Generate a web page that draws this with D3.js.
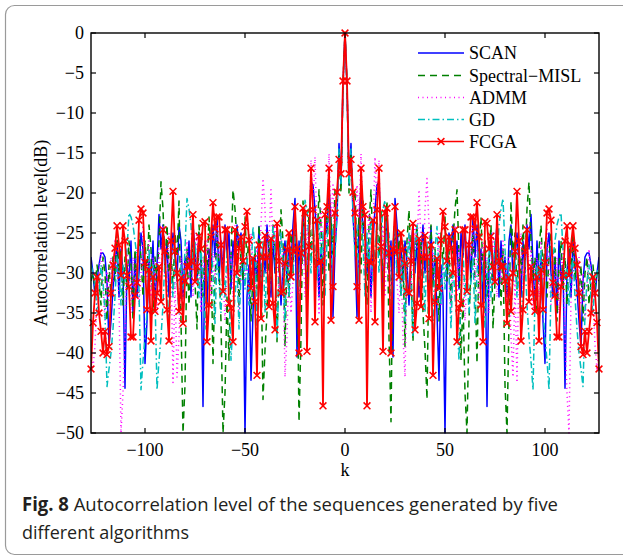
<!DOCTYPE html>
<html>
<head>
<meta charset="utf-8">
<script src="https://cdn.jsdelivr.net/npm/d3@7"></script>
<style>
  body { margin: 0; background: #fff; }
  svg { display: block; }
</style>
</head>
<body>
<svg width="623" height="556"></svg>
<script>
// lags k = -127..127 ; autocorrelation level is symmetric, so only k >= 0 is listed
const lags = d3.range(-127, 128);

const scanHalf = [
  0, -6.5, -19, -13.8, -23, -27, -35.5, -24, -19, -25,
  -23, -30, -27, -33, -26, -22, -19, -18.6, -25, -33,
  -28, -22, -30, -26, -40.5, -20.7, -24, -29, -27, -31,
  -26, -29, -34, -27, -24, -30, -26, -33, -28, -24,
  -30, -27, -34, -24.2, -31, -28, -35, -43.4, -29, -33,
  -50, -30, -25, -27, -24, -29, -26, -32, -25, -28,
  -24, -30, -26, -31, -23, -28, -24, -30, -27, -34,
  -26, -46.7, -29, -25, -31, -27, -24, -33, -26, -30,
  -28, -33, -26, -24, -31, -28, -25, -29, -33, -26,
  -30, -24, -27, -22.7, -29, -34, -26, -31, -28, -36,
  -41.3, -27, -25, -30, -33, -28, -35, -26, -31, -29,
  -44.4, -30, -27, -33, -26, -29, -32, -36, -39.2, -31,
  -28, -27.5, -27.5, -29, -31, -33, -30, -28
];

const misHalf = [
  0, -6.5, -20, -15, -21, -19.6, -28, -23, -30, -21,
  -26, -34, -24, -19.6, -27, -31, -23, -28, -22, -35,
  -25, -21, -38, -48.6, -27, -23, -30, -25, -33, -28,
  -39.2, -26, -22.1, -29, -38.6, -27, -24, -31, -26, -35,
  -39.6, -45.8, -28, -24, -32, -27, -30, -36, -25, -29,
  -23, -31, -27, -34, -26, -22, -19.6, -28, -40.9, -33,
  -45, -50, -36, -29, -25, -31, -41.3, -27, -23, -30,
  -26, -33, -28, -24, -37, -31, -26, -29, -34, -27,
  -44, -50, -36, -21, -28, -25, -32, -27, -30, -24,
  -29, -22, -18.6, -26, -31, -28, -35, -27, -24, -30,
  -26, -33, -28, -25, -31, -27, -36, -29, -26, -32,
  -28, -34, -27, -30, -25, -31, -28, -33, -29, -36,
  -30, -28, -34, -31, -29, -32, -30, -31
];

const admmHalf = [
  0, -6.5, -18, -16, -21, -26, -19, -23, -15.1, -24,
  -30, -27, -22, -35, -25, -15.5, -22, -15.9, -28, -24,
  -33, -26, -30, -37, -27, -24, -31, -35, -28, -38,
  -43, -29, -25, -32, -28, -24, -27, -19.6, -26, -30,
  -22, -18.2, -24, -31, -27, -33, -29, -25, -34, -28,
  -31, -26, -30, -35, -28, -24, -33, -27, -31, -29,
  -36, -30, -26, -28, -24, -31, -27, -33, -29, -26,
  -31, -28, -35, -30, -25, -29, -33, -27, -31, -26,
  -30, -34, -28, -38, -43, -31, -43.7, -28, -25, -33,
  -29, -24, -31, -27, -35, -30, -28, -33, -26, -31,
  -29, -24, -30, -34, -27, -32, -28, -35, -30, -27,
  -38, -45, -50, -33, -29, -26, -31, -28, -34, -30,
  -36, -32, -27, -30, -33, -39, -42, -40
];

const gdHalf = [
  0, -6.5, -19, -14.5, -22, -28, -24, -31, -22, -26,
  -33, -25, -29, -23, -31, -27, -24, -30, -26, -22,
  -20.9, -28, -25, -34, -28, -24, -30, -27, -33, -26,
  -36, -29, -25, -31, -38, -27, -24, -30, -33, -28,
  -35, -26, -31, -29, -37, -27, -24.2, -30, -34, -28,
  -32, -26, -30, -37, -29, -33, -36, -40.9, -31, -27,
  -33, -29, -35, -31, -28, -36.3, -30, -26, -32, -29,
  -37, -31, -27, -33, -30, -26, -29, -24, -22, -20.7,
  -27, -32, -29, -35, -31, -28, -33, -30, -36, -32,
  -28, -34, -38, -41, -44.6, -33, -29, -31, -27, -35,
  -38, -41, -44.6, -32, -28, -26, -24, -23, -22.5, -27,
  -31, -29, -34, -30, -28, -33, -37, -40, -42, -44.2,
  -35, -31, -29, -33, -35, -31, -30, -29
];

const fcgaHalf = [
  0, -6, -17.6, -15.8, -19.9, -22.5, -31.7, -35.9, -16.9, -21.7,
  -22.7, -46.6, -28.5, -28.8, -23.4, -36.1, -22.1, -16.9, -26.7, -39.8,
  -22.5, -21.9, -27.5, -40, -27, -21.7, -27.3, -30.5, -25, -27.1,
  -28.8, -32.3, -32.5, -28.5, -23.8, -37.1, -33.8, -25.7, -34.2, -28,
  -25.3, -28, -35.7, -26.5, -42.8, -33.6, -28.2, -31.9, -25.9, -22.3,
  -24.2, -28.5, -25.5, -26.9, -30, -24.6, -38.6, -34.4, -33.8, -24.6,
  -24.6, -32.3, -26.5, -23, -23, -24.5, -21.2, -25.5, -34, -38.6,
  -23.6, -23.8, -27, -25.4, -29.2, -31.1, -22.7, -28.5, -29.2, -29.2,
  -31, -36.3, -30.6, -34.8, -30, -27.3, -19.8, -26, -38.5, -34.6,
  -27.3, -24.6, -33.6, -29.2, -32.5, -34.8, -30.5, -38.5, -29.6, -34.6,
  -28.7, -22.5, -22, -23.4, -31.2, -32.8, -38, -38, -31.7, -30.3,
  -26, -24.1, -30.3, -26.5, -24.1, -26.9, -29, -32.5, -39.2, -40.2,
  -37.3, -40, -37.3, -35, -30.5, -32.5, -36.2, -42
];

const seriesNames = ["SCAN", "Spectral\u2212MISL", "ADMM", "GD", "FCGA"];
const seriesColors = ["#0000ff", "#008000", "#ff00ff", "#00bfbf", "#ff0000"];
const seriesDash = [null, "7,5", "1,3.5", "7,3,1.5,3", null];
const xTicks = [-100, -50, 0, 50, 100];
const yTicks = d3.range(0, -51, -5);

const full = half => lags.map(k => half[Math.abs(k)]);
const series = [scanHalf, misHalf, admmHalf, gdHalf, fcgaHalf].map(full);

const svg = d3.select("svg");
const font = "'Liberation Serif', 'Times New Roman', serif";

// outer card border
svg.append("rect")
  .attr("x", 5.5).attr("y", 5.5)
  .attr("width", 640).attr("height", 549)
  .attr("rx", 9)
  .attr("fill", "none")
  .attr("stroke", "#9a9a9a")
  .attr("stroke-width", 1.2);

const margin = { left: 91, top: 33, right: 599, bottom: 433 };

const x = d3.scaleLinear().domain([-127, 127]).range([margin.left, margin.right]);
const y = d3.scaleLinear().domain([-50, 0]).range([margin.bottom, margin.top]);

svg.append("clipPath").attr("id", "clip")
  .append("rect")
  .attr("x", margin.left).attr("y", margin.top - 2)
  .attr("width", margin.right - margin.left).attr("height", margin.bottom - margin.top + 4);

const plot = svg.append("g").attr("clip-path", "url(#clip)");

const line = d3.line()
  .x((d, i) => x(lags[i]))
  .y(d => y(d));

series.forEach((vals, s) => {
  plot.append("path")
    .datum(vals)
    .attr("fill", "none")
    .attr("stroke", seriesColors[s])
    .attr("stroke-width", s === 4 ? 1.8 : 1.5)
    .attr("stroke-dasharray", seriesDash[s])
    .attr("stroke-linejoin", "round")
    .attr("d", line);
});

// x markers for FCGA
const cross = (sel, cx, cy, r) => {
  sel.append("path")
    .attr("d", `M${cx - r},${cy - r}L${cx + r},${cy + r}M${cx - r},${cy + r}L${cx + r},${cy - r}`)
    .attr("stroke", "#ff0000")
    .attr("stroke-width", 1.5)
    .attr("fill", "none");
};
const markers = svg.append("g");
series[4].forEach((v, i) => cross(markers, x(lags[i]), y(v), 3.4));

// axes box
svg.append("rect")
  .attr("x", margin.left).attr("y", margin.top)
  .attr("width", margin.right - margin.left).attr("height", margin.bottom - margin.top)
  .attr("fill", "none").attr("stroke", "#000").attr("stroke-width", 1.4);

const fmt = d3.format("d");
const tickLen = 5;
const ticks = svg.append("g").attr("stroke", "#000").attr("stroke-width", 1.2);
xTicks.forEach(t => {
  ticks.append("line").attr("x1", x(t)).attr("x2", x(t)).attr("y1", margin.bottom).attr("y2", margin.bottom - tickLen);
  ticks.append("line").attr("x1", x(t)).attr("x2", x(t)).attr("y1", margin.top).attr("y2", margin.top + tickLen);
});
yTicks.forEach(t => {
  ticks.append("line").attr("x1", margin.left).attr("x2", margin.left + tickLen).attr("y1", y(t)).attr("y2", y(t));
  ticks.append("line").attr("x1", margin.right).attr("x2", margin.right - tickLen).attr("y1", y(t)).attr("y2", y(t));
});

svg.append("g").selectAll("text")
  .data(xTicks)
  .join("text")
  .attr("x", d => x(d))
  .attr("y", 456)
  .attr("text-anchor", "middle")
  .attr("font-family", font)
  .attr("font-size", 18)
  .text(d => fmt(d));

svg.append("g").selectAll("text")
  .data(yTicks)
  .join("text")
  .attr("x", 84)
  .attr("y", d => y(d))
  .attr("dy", "0.34em")
  .attr("text-anchor", "end")
  .attr("font-family", font)
  .attr("font-size", 18)
  .text(d => fmt(d));

svg.append("text")
  .attr("x", 345).attr("y", 476)
  .attr("text-anchor", "middle")
  .attr("font-family", font).attr("font-size", 18)
  .text("k");

svg.append("text")
  .attr("transform", "translate(47,233) rotate(-90)")
  .attr("text-anchor", "middle")
  .attr("font-family", font).attr("font-size", 18)
  .text("Autocorrelation level(dB)");

// legend
const legend = svg.append("g");
const legY = [53, 75.5, 97.5, 119.5, 141.5];
seriesNames.forEach((name, s) => {
  legend.append("line")
    .attr("x1", 418).attr("x2", 464)
    .attr("y1", legY[s]).attr("y2", legY[s])
    .attr("stroke", seriesColors[s])
    .attr("stroke-width", 1.5)
    .attr("stroke-dasharray", seriesDash[s]);
  if (s === 4) cross(legend, 441, legY[s], 3.4);
  legend.append("text")
    .attr("x", 469).attr("y", legY[s])
    .attr("dy", "0.35em")
    .attr("font-family", font).attr("font-size", 18)
    .text(name);
});

// caption
const cap = svg.append("text")
  .attr("x", 22).attr("y", 511)
  .attr("font-family", "'Open Sans', 'Noto Sans', sans-serif")
  .attr("font-size", 19)
  .attr("fill", "#231f20")
  .attr("textLength", 536)
  .attr("lengthAdjust", "spacingAndGlyphs");
cap.append("tspan").attr("font-weight", "bold").text("Fig. 8");
cap.append("tspan").text(" Autocorrelation level of the sequences generated by five");

svg.append("text")
  .attr("x", 22).attr("y", 539)
  .attr("font-family", "'Open Sans', 'Noto Sans', sans-serif")
  .attr("font-size", 19)
  .attr("fill", "#231f20")
  .attr("textLength", 167)
  .attr("lengthAdjust", "spacingAndGlyphs")
  .text("different algorithms");
</script>
</body>
</html>
